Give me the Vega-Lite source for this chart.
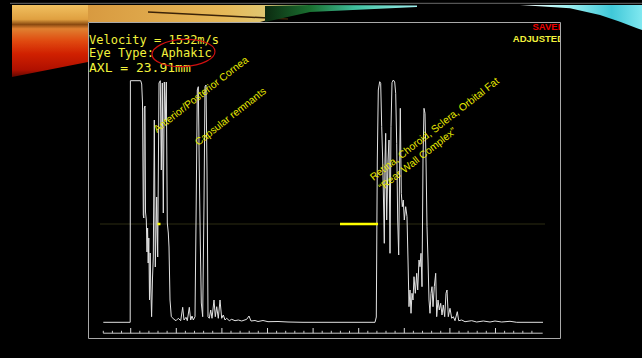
{
  "$schema": "https://vega.github.io/schema/vega-lite/v6.json",
  "width": 472,
  "height": 316,
  "autosize": "none",
  "padding": {"left": 88, "top": 22, "right": 82, "bottom": 20},
  "background": "#000000",
  "config": {"view": {"stroke": "#a9a9a9", "strokeWidth": 1}},
  "datasets": {
    "trace": [
      {"x":15.3,"y":15.7},{"x":42.2,"y":15.7},{"x":42.4,"y":257.3},{"x":52.7,"y":257.3},{"x":53.7,"y":254},{"x":54.5,"y":235},{"x":55.3,"y":123},{"x":55.8,"y":120},{"x":56.3,"y":230},{"x":57,"y":232},{"x":57.5,"y":126},{"x":58.3,"y":118},{"x":59,"y":86},{"x":59.6,"y":110},{"x":60.2,"y":75},{"x":60.8,"y":100},{"x":61.5,"y":38},{"x":62.2,"y":85},{"x":62.8,"y":50},{"x":63.6,"y":21.3},{"x":64.5,"y":60},{"x":65.3,"y":81},{"x":66.3,"y":218},{"x":67.3,"y":71},{"x":68.7,"y":141},{"x":69.7,"y":81},{"x":71,"y":255},{"x":72.3,"y":257.3},{"x":73.3,"y":168},{"x":74.3,"y":255},{"x":75.3,"y":125},{"x":76.3,"y":256},{"x":77.3,"y":218},{"x":78.3,"y":256},{"x":79.3,"y":115},{"x":80.3,"y":105},{"x":81,"y":91},{"x":82,"y":38},{"x":83.3,"y":21.3},{"x":86,"y":18.7},{"x":88,"y":17.3},{"x":90.3,"y":19.7},{"x":92.7,"y":17.3},{"x":94.7,"y":30.7},{"x":96,"y":18},{"x":98,"y":20.7},{"x":99.3,"y":17.3},{"x":101.3,"y":30.7},{"x":102.7,"y":18},{"x":104,"y":22},{"x":105.3,"y":18},{"x":107,"y":21.3},{"x":108,"y":115},{"x":109.3,"y":248},{"x":110.3,"y":251.3},{"x":111.3,"y":168},{"x":112.3,"y":95},{"x":113.3,"y":35},{"x":114.7,"y":21.3},{"x":116,"y":135},{"x":117,"y":251.3},{"x":118,"y":253},{"x":119,"y":168},{"x":120,"y":21.3},{"x":121.3,"y":19.7},{"x":122.7,"y":28},{"x":124,"y":19.7},{"x":126,"y":38},{"x":127.3,"y":21.3},{"x":128.7,"y":31.3},{"x":130.3,"y":19.7},{"x":132,"y":38},{"x":133.7,"y":19.7},{"x":135.3,"y":23},{"x":137,"y":18},{"x":138.7,"y":19.7},{"x":141.3,"y":17.3},{"x":143.7,"y":18.7},{"x":147,"y":17.3},{"x":150.3,"y":18},{"x":153.7,"y":17},{"x":158.7,"y":18.7},{"x":161,"y":22},{"x":163,"y":17},{"x":167,"y":17.5},{"x":170,"y":16.5},{"x":175,"y":17.5},{"x":180,"y":16.3},{"x":190,"y":16.5},{"x":200,"y":16},{"x":215,"y":15.7},{"x":287,"y":15.7},{"x":288.3,"y":21},{"x":289.3,"y":178},{"x":290.3,"y":248},{"x":291.7,"y":256.3},{"x":292.7,"y":254.7},{"x":293.7,"y":211.3},{"x":294.7,"y":178},{"x":295.7,"y":128},{"x":296.3,"y":94.7},{"x":297,"y":178},{"x":297.7,"y":204.7},{"x":298.7,"y":118},{"x":300,"y":178},{"x":301,"y":198},{"x":302,"y":84.7},{"x":303,"y":211.3},{"x":304,"y":255.3},{"x":305.3,"y":258},{"x":306.7,"y":256},{"x":307.7,"y":244.7},{"x":308.7,"y":194.7},{"x":309.7,"y":118},{"x":310.7,"y":83},{"x":311.7,"y":178},{"x":312.3,"y":229.7},{"x":313.3,"y":144.7},{"x":314.3,"y":131.3},{"x":315.3,"y":138},{"x":316.3,"y":118},{"x":317.7,"y":131.3},{"x":319,"y":121.3},{"x":320,"y":78},{"x":321,"y":31.3},{"x":322,"y":48},{"x":323,"y":24.7},{"x":324,"y":44.7},{"x":325,"y":38},{"x":326,"y":61.3},{"x":327.3,"y":44.7},{"x":328.7,"y":64.7},{"x":329.7,"y":48},{"x":331,"y":78},{"x":332,"y":71.3},{"x":333,"y":84.7},{"x":334,"y":51.3},{"x":335,"y":178},{"x":336,"y":229.7},{"x":337,"y":224.7},{"x":338,"y":178},{"x":339,"y":111.3},{"x":340,"y":78},{"x":341,"y":38},{"x":342,"y":24.7},{"x":343,"y":44.7},{"x":344,"y":51.3},{"x":345,"y":31.3},{"x":346.3,"y":51.3},{"x":347.7,"y":64.7},{"x":348.7,"y":21.3},{"x":350,"y":38},{"x":351.3,"y":28},{"x":352.7,"y":34.7},{"x":354,"y":23},{"x":355.3,"y":33},{"x":356.7,"y":21.3},{"x":358,"y":44.7},{"x":359,"y":48},{"x":360.3,"y":21.3},{"x":362,"y":29.7},{"x":363.7,"y":19.7},{"x":365.3,"y":21.3},{"x":367,"y":17.3},{"x":369.3,"y":26.3},{"x":370.7,"y":17.3},{"x":373.7,"y":18},{"x":377,"y":16.3},{"x":383.7,"y":17.3},{"x":388.7,"y":16},{"x":395.3,"y":17},{"x":402,"y":16},{"x":407,"y":17},{"x":413.7,"y":16},{"x":422,"y":16.7},{"x":428.7,"y":15.7},{"x":455,"y":15.7}
    ],
    "ticks": [
      {"x":15.3,"major":false},{"x":24.4,"major":false},{"x":33.5,"major":false},{"x":42.7,"major":true},{"x":51.8,"major":false},{"x":60.9,"major":false},{"x":70.0,"major":false},{"x":79.1,"major":false},{"x":88.3,"major":true},{"x":97.4,"major":false},{"x":106.5,"major":false},{"x":115.6,"major":false},{"x":124.7,"major":false},{"x":133.9,"major":true},{"x":143.0,"major":false},{"x":152.1,"major":false},{"x":161.2,"major":false},{"x":170.3,"major":false},{"x":179.5,"major":true},{"x":188.6,"major":false},{"x":197.7,"major":false},{"x":206.8,"major":false},{"x":215.9,"major":false},{"x":225.1,"major":true},{"x":234.2,"major":false},{"x":243.3,"major":false},{"x":252.4,"major":false},{"x":261.5,"major":false},{"x":270.7,"major":true},{"x":279.8,"major":false},{"x":288.9,"major":false},{"x":298.0,"major":false},{"x":307.1,"major":false},{"x":316.3,"major":true},{"x":325.4,"major":false},{"x":334.5,"major":false},{"x":343.6,"major":false},{"x":352.7,"major":false},{"x":361.9,"major":true},{"x":371.0,"major":false},{"x":380.1,"major":false},{"x":389.2,"major":false},{"x":398.3,"major":false},{"x":407.5,"major":true},{"x":416.6,"major":false},{"x":425.7,"major":false},{"x":434.8,"major":false},{"x":443.9,"major":false}
    ]
  },
  "layer": [
    {
      "data": {"values": [{"x": -76, "y": 333, "y2": 261}, {"x": 0, "y": 333, "y2": 276}]},
      "mark": {"type": "area", "clip": false, "color": {"gradient": "linear", "x1": 0, "y1": 0, "x2": 0, "y2": 1, "stops": [{"offset": 0, "color": "#f0c060"}, {"offset": 0.2, "color": "#e0a040"}, {"offset": 0.27, "color": "#8a4a10"}, {"offset": 0.33, "color": "#e08030"}, {"offset": 0.5, "color": "#e04a10"}, {"offset": 0.68, "color": "#d02000"}, {"offset": 0.9, "color": "#b01000"}, {"offset": 1, "color": "#600800"}]}},
      "encoding": {
        "x": {"field": "x", "type": "quantitative", "scale": {"domain": [0, 472], "nice": false, "zero": false}, "axis": null},
        "y": {"field": "y", "type": "quantitative", "scale": {"domain": [0, 316], "nice": false, "zero": false}, "axis": null},
        "y2": {"field": "y2"}
      }
    },
    {
      "data": {"values": [{"x": 0, "y": 333, "y2": 316}, {"x": 172, "y": 333, "y2": 316}, {"x": 227, "y": 333, "y2": 331}]},
      "mark": {"type": "area", "clip": false, "color": {"gradient": "linear", "x1": 0, "y1": 0, "x2": 1, "y2": 0, "stops": [{"offset": 0, "color": "#d89a40"}, {"offset": 0.6, "color": "#e6b858"}, {"offset": 1, "color": "#d8d890"}]}},
      "encoding": {
        "x": {"field": "x", "type": "quantitative", "scale": {"domain": [0, 472], "nice": false, "zero": false}, "axis": null},
        "y": {"field": "y", "type": "quantitative", "scale": {"domain": [0, 316], "nice": false, "zero": false}, "axis": null},
        "y2": {"field": "y2"}
      }
    },
    {
      "data": {"values": [{"x": 60, "x2": 200, "y": 326, "y2": 319}]},
      "mark": {"type": "rule", "clip": false, "color": "#3a2208", "strokeWidth": 1.5},
      "encoding": {
        "x": {"field": "x", "type": "quantitative", "scale": {"domain": [0, 472], "nice": false, "zero": false}, "axis": null},
        "x2": {"field": "x2"},
        "y": {"field": "y", "type": "quantitative", "scale": {"domain": [0, 316], "nice": false, "zero": false}, "axis": null},
        "y2": {"field": "y2"}
      }
    },
    {
      "data": {"values": [{"x": 177, "y": 332, "y2": 316}, {"x": 222, "y": 333, "y2": 326}, {"x": 329, "y": 332.5, "y2": 331}]},
      "mark": {"type": "area", "clip": false, "color": {"gradient": "linear", "x1": 0, "y1": 0, "x2": 1, "y2": 0, "stops": [{"offset": 0, "color": "#0c2a10"}, {"offset": 0.3, "color": "#1a7030"}, {"offset": 0.6, "color": "#40c0a0"}, {"offset": 1, "color": "#a0f0f0"}]}},
      "encoding": {
        "x": {"field": "x", "type": "quantitative", "scale": {"domain": [0, 472], "nice": false, "zero": false}, "axis": null},
        "y": {"field": "y", "type": "quantitative", "scale": {"domain": [0, 316], "nice": false, "zero": false}, "axis": null},
        "y2": {"field": "y2"}
      }
    },
    {
      "data": {"values": [{"x": 432, "y": 333, "y2": 333}, {"x": 482, "y": 333, "y2": 329.7}, {"x": 512, "y": 333, "y2": 323}, {"x": 532, "y": 333, "y2": 316.3}, {"x": 549, "y": 333, "y2": 309.7}, {"x": 554, "y": 333, "y2": 308}]},
      "mark": {"type": "area", "clip": false, "color": {"gradient": "linear", "x1": 0, "y1": 0, "x2": 1, "y2": 0, "stops": [{"offset": 0, "color": "#ffffff"}, {"offset": 0.35, "color": "#a8f4f4"}, {"offset": 0.75, "color": "#40c8d8"}, {"offset": 1, "color": "#80e8f0"}]}},
      "encoding": {
        "x": {"field": "x", "type": "quantitative", "scale": {"domain": [0, 472], "nice": false, "zero": false}, "axis": null},
        "y": {"field": "y", "type": "quantitative", "scale": {"domain": [0, 316], "nice": false, "zero": false}, "axis": null},
        "y2": {"field": "y2"}
      }
    },
    {
      "data": {"values": [{"x": -78, "x2": 554, "y": 334.7}]},
      "mark": {"type": "rule", "clip": false, "color": "#6a6a6a", "strokeWidth": 1},
      "encoding": {
        "x": {"field": "x", "type": "quantitative", "scale": {"domain": [0, 472], "nice": false, "zero": false}, "axis": null},
        "x2": {"field": "x2"},
        "y": {"field": "y", "type": "quantitative", "scale": {"domain": [0, 316], "nice": false, "zero": false}, "axis": null}
      }
    },
    {
      "data": {"values": [{"x": 12, "x2": 457, "y": 114}]},
      "mark": {"type": "rule", "color": "#2c2c12", "strokeWidth": 1},
      "encoding": {
        "x": {"field": "x", "type": "quantitative", "scale": {"domain": [0, 472], "nice": false, "zero": false}, "axis": null},
        "x2": {"field": "x2"},
        "y": {"field": "y", "type": "quantitative", "scale": {"domain": [0, 316], "nice": false, "zero": false}, "axis": null}
      }
    },
    {
      "data": {"name": "trace"},
      "mark": {"type": "line", "color": "#e2e2e2", "strokeWidth": 1},
      "encoding": {
        "x": {"field": "x", "type": "quantitative", "scale": {"domain": [0, 472], "nice": false, "zero": false}, "axis": null},
        "y": {"field": "y", "type": "quantitative", "scale": {"domain": [0, 316], "nice": false, "zero": false}, "axis": null}
      }
    },
    {
      "data": {"values": [{"x": 252, "x2": 290, "y": 114}, {"x": 69.5, "x2": 72.5, "y": 114}]},
      "mark": {"type": "rule", "color": "#ffff00", "strokeWidth": 2.5},
      "encoding": {
        "x": {"field": "x", "type": "quantitative", "scale": {"domain": [0, 472], "nice": false, "zero": false}, "axis": null},
        "x2": {"field": "x2"},
        "y": {"field": "y", "type": "quantitative", "scale": {"domain": [0, 316], "nice": false, "zero": false}, "axis": null}
      }
    },
    {
      "data": {"values": [{"x": 15.3, "x2": 454.7, "y": 4.8}]},
      "mark": {"type": "rule", "color": "#c8c8c8", "strokeWidth": 1},
      "encoding": {
        "x": {"field": "x", "type": "quantitative", "scale": {"domain": [0, 472], "nice": false, "zero": false}, "axis": null},
        "x2": {"field": "x2"},
        "y": {"field": "y", "type": "quantitative", "scale": {"domain": [0, 316], "nice": false, "zero": false}, "axis": null}
      }
    },
    {
      "data": {"name": "ticks"},
      "transform": [{"filter": "!datum.major"}],
      "mark": {"type": "rule", "color": "#c8c8c8", "strokeWidth": 1},
      "encoding": {
        "x": {"field": "x", "type": "quantitative", "scale": {"domain": [0, 472], "nice": false, "zero": false}, "axis": null},
        "y": {"datum": 4.8, "type": "quantitative", "scale": {"domain": [0, 316], "nice": false, "zero": false}, "axis": null},
        "y2": {"datum": 7.2}
      }
    },
    {
      "data": {"name": "ticks"},
      "transform": [{"filter": "datum.major"}],
      "mark": {"type": "rule", "color": "#d8d8d8", "strokeWidth": 1},
      "encoding": {
        "x": {"field": "x", "type": "quantitative", "scale": {"domain": [0, 472], "nice": false, "zero": false}, "axis": null},
        "y": {"datum": 4.8, "type": "quantitative", "scale": {"domain": [0, 316], "nice": false, "zero": false}, "axis": null},
        "y2": {"datum": 10}
      }
    },
    {
      "data": {"values": [{"t": "Velocity = 1532m/s", "x": 1, "y": 294}, {"t": "Eye Type: Aphakic", "x": 1, "y": 280.7}]},
      "mark": {"type": "text", "clip": false, "font": "DejaVu Sans Mono", "fontSize": 12, "color": "#f2f23c", "align": "left", "baseline": "alphabetic"},
      "encoding": {
        "x": {"field": "x", "type": "quantitative", "scale": {"domain": [0, 472], "nice": false, "zero": false}, "axis": null},
        "y": {"field": "y", "type": "quantitative", "scale": {"domain": [0, 316], "nice": false, "zero": false}, "axis": null},
        "text": {"field": "t"}
      }
    },
    {
      "data": {"values": [{"t": "AXL = 23.91mm", "x": 1, "y": 266}]},
      "mark": {"type": "text", "clip": false, "font": "DejaVu Sans Mono", "fontSize": 13, "color": "#f2f23c", "align": "left", "baseline": "alphabetic"},
      "encoding": {
        "x": {"field": "x", "type": "quantitative", "scale": {"domain": [0, 472], "nice": false, "zero": false}, "axis": null},
        "y": {"field": "y", "type": "quantitative", "scale": {"domain": [0, 316], "nice": false, "zero": false}, "axis": null},
        "text": {"field": "t"}
      }
    },
    {
      "data": {"values": [{"t": "SAVED", "x": 476.5, "y": 308}]},
      "mark": {"type": "text", "clip": true, "font": "Liberation Sans", "fontWeight": "bold", "fontSize": 9.5, "color": "#ee0000", "align": "right", "baseline": "alphabetic"},
      "encoding": {
        "x": {"field": "x", "type": "quantitative", "scale": {"domain": [0, 472], "nice": false, "zero": false}, "axis": null},
        "y": {"field": "y", "type": "quantitative", "scale": {"domain": [0, 316], "nice": false, "zero": false}, "axis": null},
        "text": {"field": "t"}
      }
    },
    {
      "data": {"values": [{"t": "ADJUSTED", "x": 476, "y": 296}]},
      "mark": {"type": "text", "clip": true, "font": "Liberation Sans", "fontWeight": "bold", "fontSize": 9.5, "color": "#f2f23c", "align": "right", "baseline": "alphabetic"},
      "encoding": {
        "x": {"field": "x", "type": "quantitative", "scale": {"domain": [0, 472], "nice": false, "zero": false}, "axis": null},
        "y": {"field": "y", "type": "quantitative", "scale": {"domain": [0, 316], "nice": false, "zero": false}, "axis": null},
        "text": {"field": "t"}
      }
    },
    {
      "data": {"values": [
        {"t": "Anterior/Posterior Cornea", "x": 69, "y": 205},
        {"t": "Capsular remnants", "x": 110.3, "y": 192},
        {"t": "Retina, Choroid, Sclera, Orbital Fat", "x": 285.5, "y": 157},
        {"t": "“Rear Wall Complex”", "x": 294, "y": 147}
      ]},
      "mark": {"type": "text", "clip": false, "font": "Liberation Sans", "fontSize": 10.3, "color": "#e8e800", "align": "left", "baseline": "alphabetic", "angle": -38},
      "encoding": {
        "x": {"field": "x", "type": "quantitative", "scale": {"domain": [0, 472], "nice": false, "zero": false}, "axis": null},
        "y": {"field": "y", "type": "quantitative", "scale": {"domain": [0, 316], "nice": false, "zero": false}, "axis": null},
        "text": {"field": "t"}
      }
    },
    {
      "data": {"values": [{"x": 95.5, "y": 285}]},
      "mark": {"type": "point", "clip": false, "shape": "M -1 0 A 1 0.43 0 1 1 1 0 A 1 0.43 0 1 1 -1 0 Z", "size": 3969, "filled": false, "color": "#d01010", "strokeWidth": 1.2, "opacity": 1, "angle": -3},
      "encoding": {
        "x": {"field": "x", "type": "quantitative", "scale": {"domain": [0, 472], "nice": false, "zero": false}, "axis": null},
        "y": {"field": "y", "type": "quantitative", "scale": {"domain": [0, 316], "nice": false, "zero": false}, "axis": null}
      }
    }
  ]
}
